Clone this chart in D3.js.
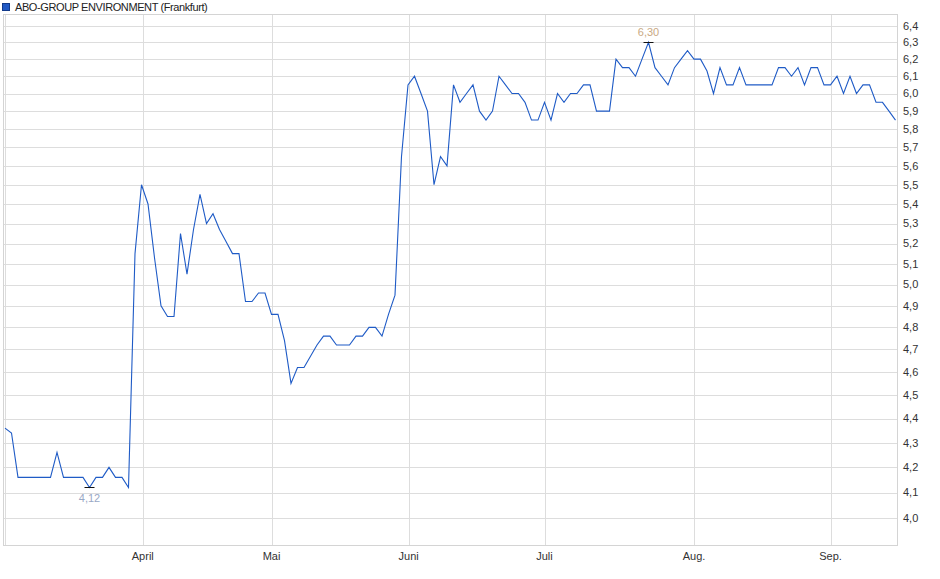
<!DOCTYPE html>
<html>
<head>
<meta charset="utf-8">
<script src="https://cdn.jsdelivr.net/npm/d3@7"></script>
<style>
  html, body { margin: 0; padding: 0; background: #fff; }
  svg { display: block; font-family: "Liberation Sans", Arial, sans-serif; }
</style>
</head>
<body>
<svg id="chart" width="940" height="579"></svg>
<script>
// ---- data ----
const seriesName = "ABO-GROUP ENVIRONMENT (Frankfurt)";
const prices = [
  4.36, 4.34, 4.16, 4.16, 4.16, 4.16, 4.16, 4.16, 4.26, 4.16,
  4.16, 4.16, 4.16, 4.12, 4.16, 4.16, 4.20, 4.16, 4.16, 4.12,
  5.15, 5.50, 5.40, 5.13, 4.90, 4.85, 4.85, 5.25, 5.05, 5.27,
  5.45, 5.30, 5.35, 5.27, 5.21, 5.15, 5.15, 4.92, 4.92, 4.96,
  4.96, 4.86, 4.86, 4.74, 4.55, 4.62, 4.62, 4.67, 4.72, 4.76,
  4.76, 4.72, 4.72, 4.72, 4.76, 4.76, 4.80, 4.80, 4.76, 4.86,
  4.95, 5.65, 6.05, 6.10, 6.00, 5.90, 5.50, 5.65, 5.60, 6.05,
  5.95, 6.00, 6.05, 5.90, 5.85, 5.90, 6.10, 6.05, 6.00, 6.00,
  5.95, 5.85, 5.85, 5.95, 5.85, 6.00, 5.95, 6.00, 6.00, 6.05,
  6.05, 5.90, 5.90, 5.90, 6.20, 6.15, 6.15, 6.10, 6.20, 6.30,
  6.15, 6.10, 6.05, 6.15, 6.20, 6.25, 6.20, 6.20, 6.13, 6.00,
  6.15, 6.05, 6.05, 6.15, 6.05, 6.05, 6.05, 6.05, 6.05, 6.15,
  6.15, 6.10, 6.15, 6.05, 6.15, 6.15, 6.05, 6.05, 6.10, 6.00,
  6.10, 6.00, 6.05, 6.05, 5.95, 5.95, 5.90, 5.85
];
// month gridlines, positioned by trading-day index
const monthLabels = ["", "April", "Mai", "Juni", "Juli", "Aug.", "Sep."];
const monthIndex  = [0, 21.2, 41, 62.1, 83, 106, 127];
const yTicks = [4.0, 4.1, 4.2, 4.3, 4.4, 4.5, 4.6, 4.7, 4.8, 4.9, 5.0, 5.1,
                5.2, 5.3, 5.4, 5.5, 5.6, 5.7, 5.8, 5.9, 6.0, 6.1, 6.2, 6.3, 6.4];

// ---- layout ----
const svg = d3.select("#chart");
const plot = { left: 3.5, right: 897.5, top: 14.5, bottom: 545.5 };
const lineColor = "#1f5bc6";
const gridColor = "#dddddd";

const x = d3.scaleLinear().domain([0, prices.length - 1]).range([5, 895.5]);
const y = d3.scaleLog().domain([3.9, 6.47]).range([545, 14.5]);

const fmt = v => d3.format(".1f")(v).replace(".", ",");
const fmt2 = v => d3.format(".2f")(v).replace(".", ",");

// horizontal grid
svg.append("g").selectAll("line").data(yTicks).join("line")
  .attr("x1", plot.left).attr("x2", plot.right)
  .attr("y1", d => Math.round(y(d)) + 0.5).attr("y2", d => Math.round(y(d)) + 0.5)
  .attr("stroke", gridColor).attr("stroke-width", 1);

// vertical grid
svg.append("g").selectAll("line").data(monthIndex).join("line")
  .attr("x1", d => Math.round(x(d)) + 0.5).attr("x2", d => Math.round(x(d)) + 0.5)
  .attr("y1", plot.top).attr("y2", plot.bottom)
  .attr("stroke", gridColor).attr("stroke-width", 1);

// frame
svg.append("rect")
  .attr("x", plot.left).attr("y", plot.top)
  .attr("width", plot.right - plot.left).attr("height", plot.bottom - plot.top)
  .attr("fill", "none").attr("stroke", "#d4d4d4");

// y labels
svg.append("g").selectAll("text").data(yTicks).join("text")
  .attr("x", 903).attr("y", d => y(d)).attr("dy", "0.35em")
  .attr("font-size", 11).attr("fill", "#333")
  .text(d => fmt(d));

// x labels
svg.append("g").selectAll("text").data(monthIndex).join("text")
  .attr("x", d => x(d)).attr("y", 556).attr("dy", "0.35em")
  .attr("text-anchor", "middle")
  .attr("font-size", 11).attr("fill", "#333")
  .text((d, i) => monthLabels[i]);

// line
const line = d3.line().x((d, i) => x(i)).y(d => y(d));
svg.append("path").datum(prices)
  .attr("d", line).attr("fill", "none")
  .attr("stroke", lineColor).attr("stroke-width", 1.1)
  .attr("stroke-linejoin", "miter");

// min / max markers
const minV = d3.min(prices), maxV = d3.max(prices);
const minI = prices.indexOf(minV), maxI = prices.indexOf(maxV);
[[minI, minV, 1, "#99a8c6"], [maxI, maxV, -1, "#c9a983"]].forEach(([i, v, dir, col]) => {
  const px = x(i), py = y(v);
  svg.append("line")
    .attr("x1", px - 5).attr("x2", px + 5)
    .attr("y1", Math.round(py) + 0.5).attr("y2", Math.round(py) + 0.5)
    .attr("stroke", "#111").attr("stroke-width", 1);
  svg.append("text")
    .attr("x", px).attr("y", py + dir * 10.5).attr("dy", "0.35em")
    .attr("text-anchor", "middle").attr("font-size", 11).attr("fill", col)
    .text(fmt2(v));
});

// legend
svg.append("rect").attr("x", 2.5).attr("y", 3.5).attr("width", 7).attr("height", 7)
  .attr("fill", "#2159c4").attr("stroke", "#123a8a");
svg.append("text").attr("x", 15).attr("y", 7).attr("dy", "0.35em")
  .attr("font-size", 11).attr("letter-spacing", "-0.4px")
  .attr("fill", "#222").text(seriesName);
</script>
</body>
</html>
